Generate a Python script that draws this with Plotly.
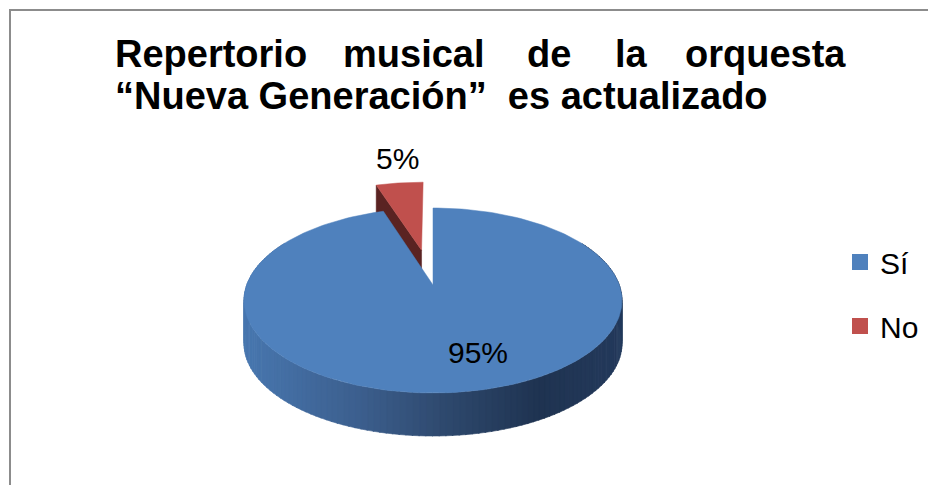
import math
import plotly.graph_objects as go

# ---------------- data ----------------
categories = ["Sí", "No"]
values = [95, 5]
colors_top = ["#4F81BD", "#C0504D"]
colors_cut = ["#2B4568", "#5A2322"]
explode = [0.0, 0.42]
title_line1_words = ["Repertorio", "musical", "de", "la", "orquesta"]
title_line2 = "“Nueva Generación”\u00a0 es actualizado"

# ---------------- layout constants ----------------
OFF = 8                    # page body margin
W, H = 936, 485
CX, CY = 433, 285          # projected centre of the top face
KX, KY = 186.3, 89.9       # horizontal / vertical radius scale
PERSP = 0.1676             # mild perspective
DEPTH = 43                 # wall height in px
FONT = "Liberation Sans, Arial, sans-serif"


def proj(X, Y, z=0.0):
    s = 1.0 / (1.0 + PERSP * Y)
    return CX + KX * X * s, CY - KY * Y * s + z


def hex2rgb(h):
    h = h.lstrip("#")
    return tuple(int(h[i:i + 2], 16) for i in (0, 2, 4))


def lerp_color(stops, t):
    t = max(0.0, min(1.0, t))
    for (t0, c0), (t1, c1) in zip(stops, stops[1:]):
        if t0 <= t <= t1:
            f = (t - t0) / (t1 - t0) if t1 > t0 else 0
            a, b = hex2rgb(c0), hex2rgb(c1)
            r = [round(a[i] + (b[i] - a[i]) * f) for i in range(3)]
            return "rgb(%d,%d,%d)" % tuple(r)
    return stops[-1][1]


wall_stops = [(0.0, "#4877AF"), (0.3, "#3C5F8E"), (0.55, "#2D476B"),
              (0.78, "#1F3351"), (1.0, "#243A5C")]

total = sum(values)
fig = go.Figure()

# slice angles (clockwise from the far side)
slices = []
acc = 0.0
for cat, v, e in zip(categories, values, explode):
    a0 = 2 * math.pi * acc / total
    acc += v
    a1 = 2 * math.pi * acc / total
    am = (a0 + a1) / 2
    slices.append((cat, a0, a1, e * math.sin(am), e * math.cos(am)))

# ---- back (exploded) slice first: cut face + top face ----
order = [1, 0]
for idx in order:
    cat, a0, a1, ox, oy = slices[idx]
    if idx == 1:
        pts = [proj(ox, oy, 0), proj(ox + math.sin(a0), oy + math.cos(a0), 0),
               proj(ox + math.sin(a0), oy + math.cos(a0), DEPTH), proj(ox, oy, DEPTH)]
        fig.add_trace(go.Scatter(x=[p[0] for p in pts] + [pts[0][0]],
                                 y=[p[1] for p in pts] + [pts[0][1]],
                                 fill="toself", fillcolor=colors_cut[idx], mode="lines",
                                 line=dict(width=0.5, color=colors_cut[idx]),
                                 hoverinfo="skip", showlegend=False))
    else:
        n = 140
        lo, hi = math.radians(60), math.radians(300)
        xs_all = [proj(ox + math.sin(lo + (hi - lo) * k / n), oy + math.cos(lo + (hi - lo) * k / n))[0]
                  for k in range(n + 1)]
        xmin, xmax = min(xs_all), max(xs_all)
        for k in range(n):
            t0 = lo + (hi - lo) * k / n
            t1 = lo + (hi - lo) * (k + 1.15) / n
            p0 = proj(ox + math.sin(t0), oy + math.cos(t0))
            p1 = proj(ox + math.sin(t1), oy + math.cos(t1))
            q1 = proj(ox + math.sin(t1), oy + math.cos(t1), DEPTH)
            q0 = proj(ox + math.sin(t0), oy + math.cos(t0), DEPTH)
            c = lerp_color(wall_stops, ((p0[0] + p1[0]) / 2 - xmin) / (xmax - xmin))
            fig.add_trace(go.Scatter(x=[p0[0], p1[0], q1[0], q0[0], p0[0]],
                                     y=[p0[1], p1[1], q1[1], q0[1], p0[1]],
                                     fill="toself", fillcolor=c, mode="lines",
                                     line=dict(width=0.6, color=c),
                                     hoverinfo="skip", showlegend=False))
    m = 200
    xs, ys = [], []
    cx0, cy0 = proj(ox, oy)
    xs.append(cx0); ys.append(cy0)
    for k in range(m + 1):
        t = a0 + (a1 - a0) * k / m
        px, py = proj(ox + math.sin(t), oy + math.cos(t))
        xs.append(px); ys.append(py)
    xs.append(cx0); ys.append(cy0)
    fig.add_trace(go.Scatter(x=xs, y=ys, fill="toself", fillcolor=colors_top[idx], mode="lines",
                             line=dict(width=0.5, color=colors_top[idx]),
                             hoverinfo="skip", showlegend=False, name=cat))

# legend entries
for i, cat in enumerate(categories):
    fig.add_trace(go.Scatter(x=[None], y=[None], mode="markers", name=cat,
                             legendgroup=cat,
                             marker=dict(symbol="square", size=18, color=colors_top[i]),
                             showlegend=True))

# data labels
label_pos = [(478, 352), (397, 158)]
for (lx, ly), v in zip(label_pos, values):
    fig.add_annotation(x=lx, y=ly, text=f"{v}%", showarrow=False,
                       font=dict(family=FONT, size=30, color="#000000"),
                       xanchor="center", yanchor="middle")

# title: first line justified word by word
line1_x = [(113, "left"), (414, "center"), (549, "center"), (631, "center"), (848, "right")]
for word, (wx, anc) in zip(title_line1_words, line1_x):
    fig.add_annotation(x=wx, y=54, text=f"<b>{word}</b>", showarrow=False,
                       font=dict(family=FONT, size=38, color="#000000"),
                       xanchor=anc, yanchor="middle")
fig.add_annotation(x=113, y=96, text=f"<b>{title_line2}</b>", showarrow=False,
                   font=dict(family=FONT, size=38, color="#000000"),
                   xanchor="left", yanchor="middle")

# chart border
fig.add_shape(type="rect", xref="x", yref="y", x0=10, x1=W + 20, y0=10, y1=H + 20,
              line=dict(color="#8C8C8C", width=2), fillcolor="rgba(0,0,0,0)", layer="above")

fig.update_layout(
    width=W - OFF, height=H - OFF, autosize=False,
    margin=dict(l=0, r=0, t=0, b=0),
    paper_bgcolor="white", plot_bgcolor="white",
    xaxis=dict(range=[OFF, W], visible=False, fixedrange=True),
    yaxis=dict(range=[H, OFF], visible=False, fixedrange=True),
    showlegend=True,
    legend=dict(x=(840 - OFF) / (W - OFF), y=1 - (236 - OFF) / (H - OFF), xanchor="left", yanchor="top",
                font=dict(family=FONT, size=30, color="#000000"),
                tracegroupgap=22, bgcolor="rgba(0,0,0,0)"),
)

fig.write_html("out.html")
